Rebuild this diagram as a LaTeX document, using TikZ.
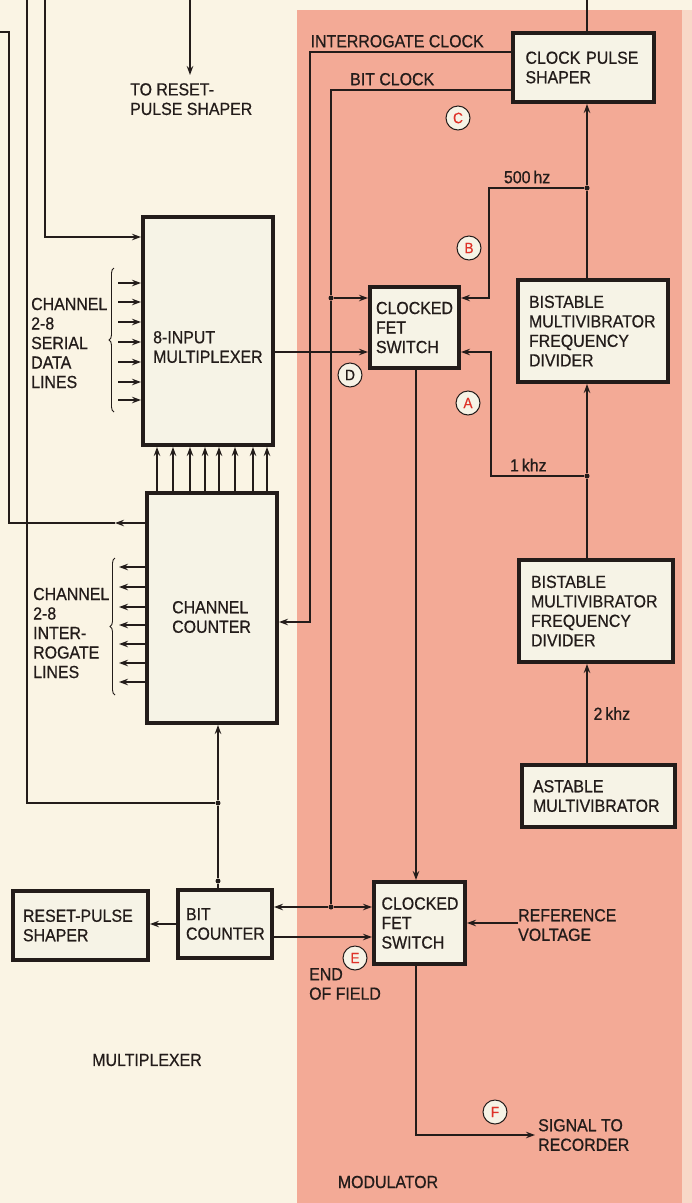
\documentclass[tikz,border=0pt]{standalone}
\usepackage{fontspec}
\setmainfont[FakeStretch=0.91,FakeBold=0.6]{Liberation Sans}
\usetikzlibrary{arrows.meta,positioning,calc,decorations.pathreplacing}
\definecolor{paperCream}{RGB}{250,244,228}
\definecolor{modPink}{RGB}{243,170,150}
\definecolor{edgePink}{RGB}{248,216,200}
\definecolor{boxFill}{RGB}{246,243,230}
\definecolor{inkDark}{RGB}{35,28,26}
\definecolor{markRed}{RGB}{222,50,40}
\newcommand{\lblfont}{\fontsize{17.5pt}{19.5pt}\selectfont}
\tikzset{
  blk/.style={draw=inkDark, line width=4pt, fill=boxFill, inner sep=0pt, align=left, font=\lblfont, text=inkDark},
  txt/.style={inner sep=0pt, align=left, font=\lblfont, text=inkDark},
  wire/.style={draw=inkDark, line width=1.2pt},
  arr/.style={wire, -{Stealth[length=9pt,width=6.5pt]}},
  jn/.style={circle, fill=inkDark, inner sep=0pt, minimum size=5pt},
  ptmark/.style={circle, draw=inkDark, line width=1pt, fill=boxFill, minimum size=24pt, inner sep=0pt, font=\fontsize{15pt}{15pt}\selectfont, text=markRed},
}

\begin{document}
\begin{tikzpicture}[x=1pt,y=-1pt]
    \useasboundingbox (0,0) rectangle (692,1203);
    % backgrounds: multiplexer side and modulator side
    \fill[paperCream] (0,0) rectangle (692,1203);
    \fill[edgePink] (297,10) rectangle (692,1203);
    \fill[modPink] (297,10) rectangle (682,1203);

    % blocks
    \node[blk, minimum width=141pt, minimum height=69pt, text width=116pt] (cps) at (583.5,67.5) {CLOCK PULSE\\SHAPER};
    \node[blk, minimum width=150pt, minimum height=102pt, text width=128pt] (bs1) at (593,331) {BISTABLE\\MULTIVIBRATOR\\FREQUENCY\\DIVIDER};
    \node[blk, minimum width=154pt, minimum height=102pt, text width=130pt] (bs2) at (596,611) {BISTABLE\\MULTIVIBRATOR\\FREQUENCY\\DIVIDER};
    \node[blk, minimum width=153pt, minimum height=62pt, text width=131pt] (ast) at (598.5,796) {ASTABLE\\MULTIVIBRATOR};
    \node[blk, minimum width=89pt, minimum height=81pt, text width=77pt] (fet1) at (414.5,327.5) {CLOCKED\\FET\\SWITCH};
    \node[blk, minimum width=91pt, minimum height=82pt, text width=76pt] (fet2) at (419.5,923) {CLOCKED\\FET\\SWITCH};
    \node[blk, minimum width=130pt, minimum height=228pt] (mux) at (208,331) {};
    \node[blk, minimum width=130pt, minimum height=230pt] (ccnt) at (212,608) {};
    \node[blk, minimum width=94pt, minimum height=68pt, text width=78pt] (bitc) at (225,924) {BIT\\COUNTER};
    \node[blk, minimum width=135pt, minimum height=69pt, text width=115pt] (rps) at (80.5,925.5) {RESET-PULSE\\SHAPER};
    \node[txt, anchor=west] (muxtxt) at (153,347) {8-INPUT\\MULTIPLEXER};
    \node[txt, anchor=west] (ccnttxt) at (172,617) {CHANNEL\\COUNTER};

    % free texts
    \node[txt, anchor=north west] (rstxt) at (130,83) {TO RESET-\\PULSE SHAPER};
    \node[txt, anchor=west] (serlbl) at (31,343) {CHANNEL\\2-8\\SERIAL\\DATA\\LINES};
    \node[txt, anchor=west] (intlbl) at (33,633) {CHANNEL\\2-8\\INTER-\\ROGATE\\LINES};
    \node[txt, anchor=west] (vreftxt) at (518,925) {REFERENCE\\VOLTAGE};
    \node[txt, anchor=west] (sigout) at (538,1135) {SIGNAL TO\\RECORDER};
    \node[txt, anchor=west] (eoftxt) at (309,984) {END\\OF FIELD};
    \node[txt] (muxtitle) at (147,1060) {MULTIPLEXER};
    \node[txt] (modtitle) at (388,1182) {MODULATOR};

    % junctions and free ends
    \coordinate (chainx) at (587,0);
    \node[jn] (j500) at (587,188) {};
    \node[jn] (j1k) at (587,476) {};
    \coordinate (b500) at (489,298);
    \coordinate (b1k) at (491,352);
    \coordinate (icTop) at (310,52);
    \coordinate (icBot) at (310,622);
    \coordinate (bcTop) at (331,90);
    \node[jn] (jbc1) at (331,298) {};
    \node[jn] (jbc2) at (331,907) {};
    \node[jn] (jbit) at (218,803) {};
    \node[jn] (jbtop) at (218,881) {};
    \coordinate (l1a) at (115,523);
    \coordinate (l1top) at (9,32);
    \coordinate (l1end) at (0,32);
    \coordinate (l2top) at (27,0);
    \coordinate (l3top) at (45,0);
    \coordinate (rsTop) at (190,0);

    % frequency chain
    \draw[arr] (ast.north -| chainx) -- node[txt, right=6pt] {2\,khz} (bs2.south -| chainx);
    \draw[wire] (bs2.north -| chainx) -- (j1k);
    \draw[arr] (j1k) -- (bs1.south -| chainx);
    \draw[wire] (bs1.north -| chainx) -- (j500);
    \draw[arr] (j500) -- (cps.south -| chainx);
    \draw[wire] (cps.north -| chainx) -- (chainx);
    \draw[arr] (j500) -| node[txt, pos=0.3, above=4pt] {500\,hz} (b500) -- (fet1.east |- b500);
    \draw[arr] (j1k) -| node[txt, pos=0.3, above=4pt] {1\,khz} (b1k) -- (fet1.east |- b1k);

    % clocks
    \draw[arr] (cps.west |- icTop) -- (icTop) node[txt, above right=4pt and 0pt] {INTERROGATE CLOCK} -- (icBot) -- (ccnt.east |- icBot);
    \draw[wire] (cps.west |- bcTop) -- node[txt, pos=0.66, above=4pt] {BIT CLOCK} (bcTop) -- (jbc1) -- (jbc2);
    \draw[arr] (jbc1) -- (fet1.west |- jbc1);
    \draw[arr] (jbc2) -- (fet2.west |- jbc2);
    \draw[arr] (jbc2) -- (bitc.east |- jbc2);

    % switches
    \draw[arr] (mux.east |- 0,352) -- (fet1.west |- 0,352);
    \draw[arr] (fet1.south -| 416,0) -- (fet2.north -| 416,0);
    \draw[arr] (vreftxt.west |- 0,923) -- (fet2.east |- 0,923);
    \draw[arr, shorten >=3pt] (fet2.south -| 416,0) |- (sigout.west);
    \draw[arr] (bitc.east |- 0,937) -- (fet2.west |- 0,937);

    % multiplexer side
    \draw[arr] (bitc.west) -- (rps.east |- bitc.west);
    \draw[wire] (bitc.north -| jbit) -- (jbtop) -- (jbit);
    \draw[arr] (jbit) -- (ccnt.south -| jbit);
    \draw[wire] (jbit) -| (l2top);
    \draw[arr] (ccnt.west |- l1a) -- (l1a);
    \draw[wire] (l1a) -| (l1top) -- (l1end);
    \draw[arr] (l3top) |- (mux.west |- 0,237);
    \draw[arr, shorten >=8pt] (rsTop) -- (rsTop |- rstxt.north);
    \foreach \x in {157,173,190,205,219,235,253,267}
        \draw[arr] (ccnt.north -| \x,0) -- (mux.south -| \x,0);
    \foreach \y in {283,302,322,342,362,382,400}
        \draw[arr] (118,\y) -- (mux.west |- 0,\y);
    \foreach \y in {567,587,607,625,644,663,682}
        \draw[arr] (ccnt.west |- 0,\y) -- (119,\y);
    \draw[wire, line width=0.9pt, decorate, decoration={brace, amplitude=5pt}] (114,412) -- (114,268);
    \draw[wire, line width=0.9pt, decorate, decoration={brace, amplitude=5pt}] (115,695) -- (115,558);

    % test points
    \node[ptmark] (mkC) at (458,118) {C};
    \node[ptmark] (mkB) at (469,248) {B};
    \node[ptmark] (mkA) at (468,403) {A};
    \node[ptmark, text=inkDark] (mkD) at (350,375) {D};
    \node[ptmark] (mkE) at (355,958) {E};
    \node[ptmark] (mkF) at (495,1112) {F};
\end{tikzpicture}
\end{document}
